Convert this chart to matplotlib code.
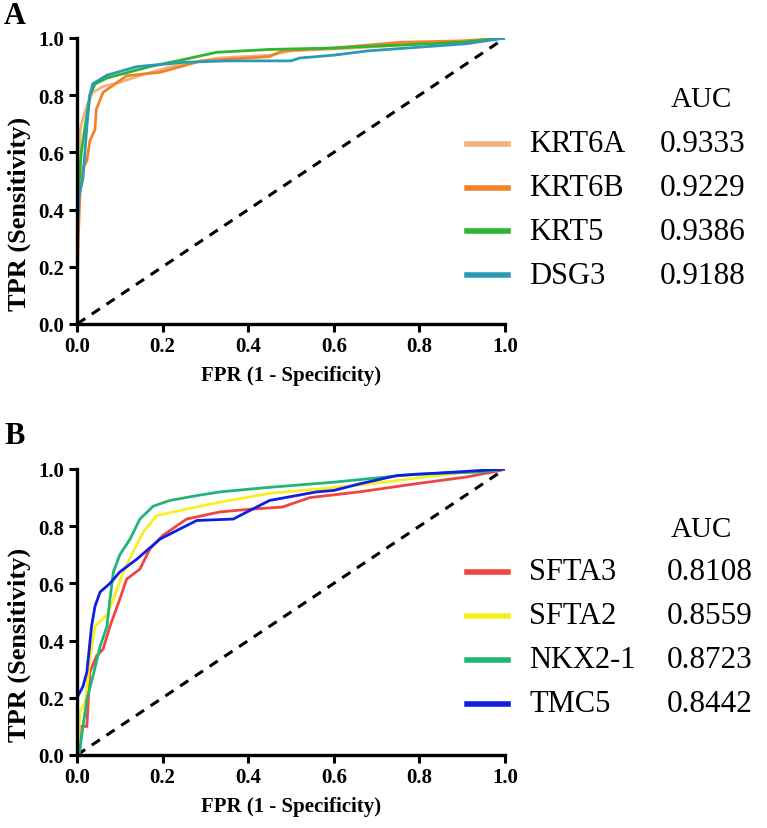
import matplotlib
matplotlib.use("Agg")
import matplotlib.pyplot as plt
from matplotlib.lines import Line2D

plt.rcParams['font.family'] = ['Liberation Serif', 'DejaVu Serif']

# ---------------- data: panel A ----------------
a_names = ["KRT6A", "KRT6B", "KRT5", "DSG3"]
a_auc = ["0.9333", "0.9229", "0.9386", "0.9188"]
a_colors = ["#F2B27E", "#F0832A", "#2DB52D", "#2A9AB8"]

krt6a_fpr = [0, 0, 0.004, 0.008, 0.014, 0.025, 0.037, 0.06, 0.1, 0.15, 0.22, 0.33, 0.45, 0.5, 0.65, 0.8, 0.9, 1.0]
krt6a_tpr = [0, 0.3, 0.55, 0.68, 0.72, 0.77, 0.81, 0.83, 0.845, 0.87, 0.90, 0.93, 0.94, 0.955, 0.965, 0.98, 0.985, 1.0]

krt6b_fpr = [0, 0, 0.003, 0.008, 0.015, 0.023, 0.03, 0.042, 0.045, 0.061, 0.08, 0.116, 0.194, 0.29, 0.45, 0.48, 0.6, 0.755, 0.9, 1.0]
krt6b_tpr = [0, 0.1, 0.3, 0.5, 0.55, 0.57, 0.64, 0.68, 0.75, 0.81, 0.83, 0.868, 0.88, 0.92, 0.935, 0.955, 0.965, 0.985, 0.99, 1.0]

krt5_fpr = [0, 0, 0.003, 0.01, 0.02, 0.03, 0.042, 0.07, 0.12, 0.17, 0.25, 0.326, 0.45, 0.6, 0.75, 0.9, 1.0]
krt5_tpr = [0, 0.27, 0.45, 0.6, 0.7, 0.8, 0.839, 0.86, 0.88, 0.90, 0.925, 0.95, 0.96, 0.965, 0.975, 0.985, 1.0]

dsg3_fpr = [0, 0, 0.005, 0.014, 0.023, 0.03, 0.037, 0.07, 0.14, 0.25, 0.35, 0.5, 0.52, 0.6, 0.68, 0.8, 0.91, 1.0]
dsg3_tpr = [0, 0.3, 0.45, 0.51, 0.69, 0.80, 0.84, 0.87, 0.90, 0.915, 0.92, 0.92, 0.93, 0.94, 0.955, 0.968, 0.98, 1.0]

a_fpr = [krt6a_fpr, krt6b_fpr, krt5_fpr, dsg3_fpr]
a_tpr = [krt6a_tpr, krt6b_tpr, krt5_tpr, dsg3_tpr]

# ---------------- data: panel B ----------------
b_names = ["SFTA3", "SFTA2", "NKX2-1", "TMC5"]
b_auc = ["0.8108", "0.8559", "0.8723", "0.8442"]
b_colors = ["#EE4545", "#F7F020", "#22B577", "#0F1EE0"]

sfta3_fpr = [0, 0.007, 0.007, 0.023, 0.03, 0.046, 0.061, 0.077, 0.1, 0.116, 0.147, 0.17, 0.2, 0.256, 0.334, 0.41, 0.48, 0.544, 0.66, 0.79, 0.91, 0.99, 1.0]
sfta3_tpr = [0, 0.02, 0.1, 0.1, 0.29, 0.347, 0.37, 0.45, 0.545, 0.615, 0.65, 0.72, 0.767, 0.825, 0.85, 0.86, 0.867, 0.90, 0.92, 0.948, 0.972, 0.995, 1.0]

sfta2_fpr = [0, 0.003, 0.007, 0.02, 0.03, 0.042, 0.07, 0.085, 0.108, 0.131, 0.155, 0.186, 0.256, 0.334, 0.45, 0.638, 0.87, 0.95, 1.0]
sfta2_tpr = [0, 0.02, 0.15, 0.19, 0.335, 0.45, 0.49, 0.545, 0.64, 0.71, 0.78, 0.837, 0.86, 0.884, 0.915, 0.94, 0.982, 0.995, 1.0]

nkx_fpr = [0, 0.005, 0.011, 0.023, 0.038, 0.054, 0.07, 0.077, 0.085, 0.1, 0.124, 0.147, 0.178, 0.217, 0.28, 0.334, 0.45, 0.6, 0.79, 0.95, 1.0]
nkx_tpr = [0, 0.0, 0.068, 0.195, 0.28, 0.38, 0.45, 0.545, 0.64, 0.70, 0.755, 0.825, 0.87, 0.89, 0.907, 0.92, 0.936, 0.954, 0.982, 0.99, 1.0]

tmc5_fpr = [0, 0, 0.014, 0.023, 0.034, 0.042, 0.054, 0.077, 0.1, 0.14, 0.194, 0.24, 0.28, 0.365, 0.404, 0.45, 0.56, 0.6, 0.66, 0.747, 0.934, 1.0]
tmc5_tpr = [0, 0.2, 0.24, 0.29, 0.45, 0.52, 0.57, 0.60, 0.64, 0.685, 0.755, 0.79, 0.82, 0.825, 0.855, 0.89, 0.92, 0.925, 0.948, 0.977, 0.994, 1.0]

b_fpr = [sfta3_fpr, sfta2_fpr, nkx_fpr, tmc5_fpr]
b_tpr = [sfta3_tpr, sfta2_tpr, nkx_tpr, tmc5_tpr]

ticks = [0.0, 0.2, 0.4, 0.6, 0.8, 1.0]
tick_labels = ["0.0", "0.2", "0.4", "0.6", "0.8", "1.0"]

W, H = 767, 829
fig = plt.figure(figsize=(W / 100, H / 100), dpi=100)


def fx(px):
    return px / W


def fy(py):
    return 1 - py / H


def panel(top_px, bottom_px, fprs, tprs, colors, names, aucs, letter, letter_y, auc_y, leg_y, val_x):
    ax = fig.add_axes([fx(77), fy(bottom_px), fx(505) - fx(77), fy(top_px) - fy(bottom_px)])
    ax.plot([0, 1], [0, 1], color="black", lw=2.2, ls=(0, (3.2, 2.6)), zorder=1)
    for f, t, c in zip(fprs, tprs, colors):
        ax.plot(f, t, color=c, lw=2.0, solid_joinstyle="miter", zorder=2)
    ax.set_xlim(0, 1)
    ax.set_ylim(0, 1)
    ax.spines["top"].set_visible(False)
    ax.spines["right"].set_visible(False)
    for s in ("left", "bottom"):
        ax.spines[s].set_linewidth(2.4)
    ax.set_xticks(ticks)
    ax.set_yticks(ticks)
    ax.set_xticklabels(tick_labels, fontsize=15, fontweight="bold")
    ax.set_yticklabels(tick_labels, fontsize=15, fontweight="bold")
    ax.tick_params(direction="out", length=6, width=2.2, pad=3)
    ax.set_xlabel("FPR (1 - Specificity)", fontsize=15, fontweight="bold", labelpad=6)
    ax.set_ylabel("TPR (Sensitivity)", fontsize=19, fontweight="bold")
    ax.yaxis.set_label_coords(-0.108, 0.39)
    fig.text(fx(4), fy(letter_y), letter, fontsize=22, fontweight="bold", ha="left", va="center")
    fig.text(fx(701), fy(auc_y), "AUC", fontsize=21, ha="center", va="center")
    for i, (c, n, v) in enumerate(zip(colors, names, aucs)):
        y = fy(leg_y[i])
        fig.add_artist(Line2D([fx(467), fx(508)], [y, y], color=c, lw=4, transform=fig.transFigure))
        fig.text(fx(529), y, n, fontsize=22, ha="left", va="center")
        fig.text(fx(val_x), y, v, fontsize=22.5, ha="left", va="center")
    return ax


panel(39, 325, a_fpr, a_tpr, a_colors, a_names, a_auc, "A", 16, 100, [145, 189, 232, 276], 660)
panel(470, 756, b_fpr, b_tpr, b_colors, b_names, b_auc, "B", 437, 530, [573, 617, 661, 705], 667)

fig.savefig("out.png", dpi=100)
